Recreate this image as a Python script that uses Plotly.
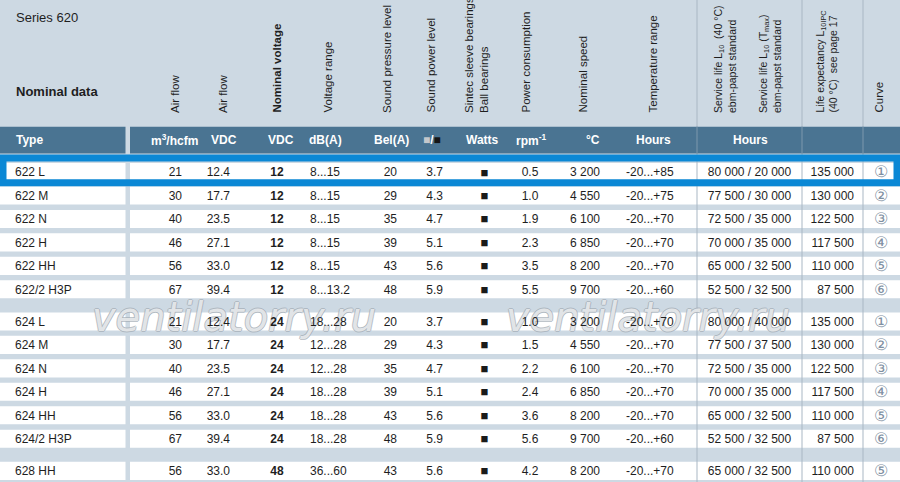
import plotly.graph_objects as go

# ---- table data ----
types = ["622 L", "622 M", "622 N", "622 H", "622 HH", "622/2 H3P",
         "624 L", "624 M", "624 N", "624 H", "624 HH", "624/2 H3P",
         "628 HH"]
groups = [0, 0, 0, 0, 0, 0, 1, 1, 1, 1, 1, 1, 2]
airflow_m3h = [21, 30, 40, 46, 56, 67, 21, 30, 40, 46, 56, 67, 56]
airflow_cfm = [12.4, 17.7, 23.5, 27.1, 33.0, 39.4, 12.4, 17.7, 23.5, 27.1, 33.0, 39.4, 33.0]
nominal_voltage = [12, 12, 12, 12, 12, 12, 24, 24, 24, 24, 24, 24, 48]
voltage_range = ["8...15", "8...15", "8...15", "8...15", "8...15", "8...13.2",
                 "18...28", "12...28", "12...28", "18...28", "18...28", "18...28",
                 "36...60"]
sound_pressure = [20, 29, 35, 39, 43, 48, 20, 29, 35, 39, 43, 48, 43]
sound_power = [3.7, 4.3, 4.7, 5.1, 5.6, 5.9, 3.7, 4.3, 4.7, 5.1, 5.6, 5.9, 5.6]
bearings = ["■"] * 13
power = [0.5, 1.0, 1.9, 2.3, 3.5, 5.5, 1.0, 1.5, 2.2, 2.4, 3.6, 5.6, 4.2]
speed = [3200, 4550, 6100, 6850, 8200, 9700, 3200, 4550, 6100, 6850, 8200, 9700, 8200]
temp_min = [-20] * 13
temp_max = [85, 75, 70, 70, 70, 60, 70, 70, 70, 70, 70, 60, 70]
life_40c = [80000, 77500, 72500, 70000, 65000, 52500,
            80000, 77500, 72500, 70000, 65000, 52500, 65000]
life_tmax = [20000, 30000, 35000, 35000, 32500, 32500,
             40000, 37500, 35000, 35000, 32500, 32500, 32500]
life_ipc = [135000, 130000, 122500, 117500, 110000, 87500,
            135000, 130000, 122500, 117500, 110000, 87500, 110000]
curve = [1, 2, 3, 4, 5, 6, 1, 2, 3, 4, 5, 6, 5]
highlight_row = 0

FONT = "Liberation Sans, Arial, sans-serif"
BG = "#cdd9e3"
BAR = "#4a7492"
BLUE = "#0b88d5"
GRID = "#a9b7c4"
INK = "#1e1e1e"


def th(v):
    return f"{v:,}".replace(",", " ")


# row layout
first_row, pitch, group_gap = 173.3, 23.45, 8.7
row_y = [first_row + i * pitch + g * group_gap for i, g in enumerate(groups)]
band_y = [y - 1 for y in row_y]

fig = go.Figure()

# watermark (drawn first so numbers sit over it)
fig.add_trace(go.Scatter(
    x=[234, 648], y=[321, 321], mode="text", text=["ventilatorry.ru"] * 2,
    textposition="middle center",
    textfont=dict(family="DejaVu Sans", size=40, style="italic",
                  color="rgba(255,255,255,0.7)",
                  shadow="1px 0 0 #a2abb4, -1px 0 0 #a2abb4, 0 1px 0 #a2abb4, 0 -1px 0 #a2abb4"),
    cliponaxis=False, hoverinfo="skip", showlegend=False))


def col(x, texts, pos, size=12, color=INK):
    fig.add_trace(go.Scatter(
        x=[x] * len(texts), y=row_y, mode="text", text=texts, textposition=pos,
        textfont=dict(family=FONT, size=size, color=color),
        cliponaxis=False, hoverinfo="skip", showlegend=False))


col(15, types, "middle right")
col(182, [str(v) for v in airflow_m3h], "middle left")
col(230, [f"{v:.1f}" for v in airflow_cfm], "middle left")
col(277, [f"<b>{v}</b>" for v in nominal_voltage], "middle center")
col(310, voltage_range, "middle right")
col(397, [str(v) for v in sound_pressure], "middle left")
col(443, [f"{v:.1f}" for v in sound_power], "middle left")
col(484.5, bearings, "middle center", size=13, color="#1a1a1a")
col(530, [f"{v:.1f}" for v in power], "middle center")
col(600, [th(v) for v in speed], "middle left")
col(626, [f"{a}...+{b}" for a, b in zip(temp_min, temp_max)], "middle right")
col(749.5, [f"{th(a)} / {th(b)}" for a, b in zip(life_40c, life_tmax)], "middle center")
col(854, [th(v) for v in life_ipc], "middle left")
col(881, [chr(0x245F + c) for c in curve], "middle center", size=16, color="#7f90a2")

# ---- shapes: rows, header bar, grid lines, highlight ----
shapes = []
for y in band_y:
    for x0, x1 in [(0, 125.5), (130, 900)]:
        shapes.append(dict(type="rect", x0=x0, x1=x1, y0=y - 9.3, y1=y + 8.8,
                           fillcolor="white", line_width=0, layer="below"))
for x in [697, 802, 863]:
    shapes.append(dict(type="line", x0=x, x1=x, y0=0, y1=482,
                       line=dict(color=GRID, width=1), layer="below"))
for x0, x1 in [(0, 125.5), (130, 900)]:
    shapes.append(dict(type="rect", x0=x0, x1=x1, y0=126.7, y1=153.5,
                       fillcolor=BAR, line_width=0, layer="below"))
for x in [697, 802, 863]:
    shapes.append(dict(type="line", x0=x, x1=x, y0=126.7, y1=153.5,
                       line=dict(color="#7d98ad", width=1), layer="below"))
hy = band_y[highlight_row]
shapes.append(dict(type="rect", x0=3, x1=897, y0=hy - 14.3, y1=hy + 10.5,
                   line=dict(color=BLUE, width=7), fillcolor="rgba(0,0,0,0)",
                   layer="below"))

# ---- header texts ----
ann = []
ann.append(dict(x=14, y=17, text="Series 620", xanchor="left", yanchor="middle",
                font=dict(family=FONT, size=13, color=INK)))
ann.append(dict(x=14, y=91, text="<b>Nominal data</b>", xanchor="left", yanchor="middle",
                font=dict(family=FONT, size=13, color=INK)))

rot_headers = [
    (175, "Air flow", 11.5),
    (223, "Air flow", 11.5),
    (276, "<b>Nominal voltage</b>", 11.5),
    (327, "Voltage range", 11.5),
    (387, "Sound pressure level", 11.5),
    (430, "Sound power level", 11.5),
    (476, "Sintec sleeve bearings<br>Ball bearings", 11.5),
    (525, "Power consumption", 11.5),
    (582, "Nominal speed", 11.5),
    (652, "Temperature range", 11.5),
    (725, "Service life L<sub>10</sub>  (40 °C)<br>ebm-papst standard", 10.5),
    (770, "Service life L<sub>10</sub> (T<sub>max</sub>)<br>ebm-papst standard", 10.5),
    (826, "Life expectancy L<sub>10IPC</sub><br>(40 °C)  see page 17", 10.5),
    (878, "Curve", 11.5),
]
for x, t, s in rot_headers:
    ann.append(dict(x=x, y=115, text=t, textangle=-90, xanchor="center", yanchor="bottom",
                    align="left", font=dict(family=FONT, size=s, color=INK)))

bar_labels = [
    (14, "Type"), (149, "m<sup>3</sup>/hcfm"), (209, "VDC"), (266, "VDC"),
    (307, "dB(A)"), (372, "Bel(A)"),
    (421, "<span style='color:#c4c8cc'>■</span>/<span style='color:#151515'>■</span>"),
    (464, "Watts"), (514, "rpm<sup>-1</sup>"), (584, "°C"), (634, "Hours"), (731, "Hours"),
]
for x, t in bar_labels:
    ann.append(dict(x=x, y=140, text=f"<b>{t}</b>", xanchor="left", yanchor="middle",
                    font=dict(family=FONT, size=12, color="white")))

for a in ann:
    a.update(showarrow=False, xref="x", yref="y")

fig.update_layout(
    width=900, height=482, margin=dict(l=0, r=0, t=0, b=0),
    paper_bgcolor=BG, plot_bgcolor=BG,
    xaxis=dict(range=[0, 900], visible=False, fixedrange=True),
    yaxis=dict(range=[482, 0], visible=False, fixedrange=True),
    shapes=shapes, annotations=ann, showlegend=False,
)
fig.write_html("out.html", config={"displayModeBar": False},
               post_script="document.body.style.margin='0';document.body.style.overflow='hidden';")
